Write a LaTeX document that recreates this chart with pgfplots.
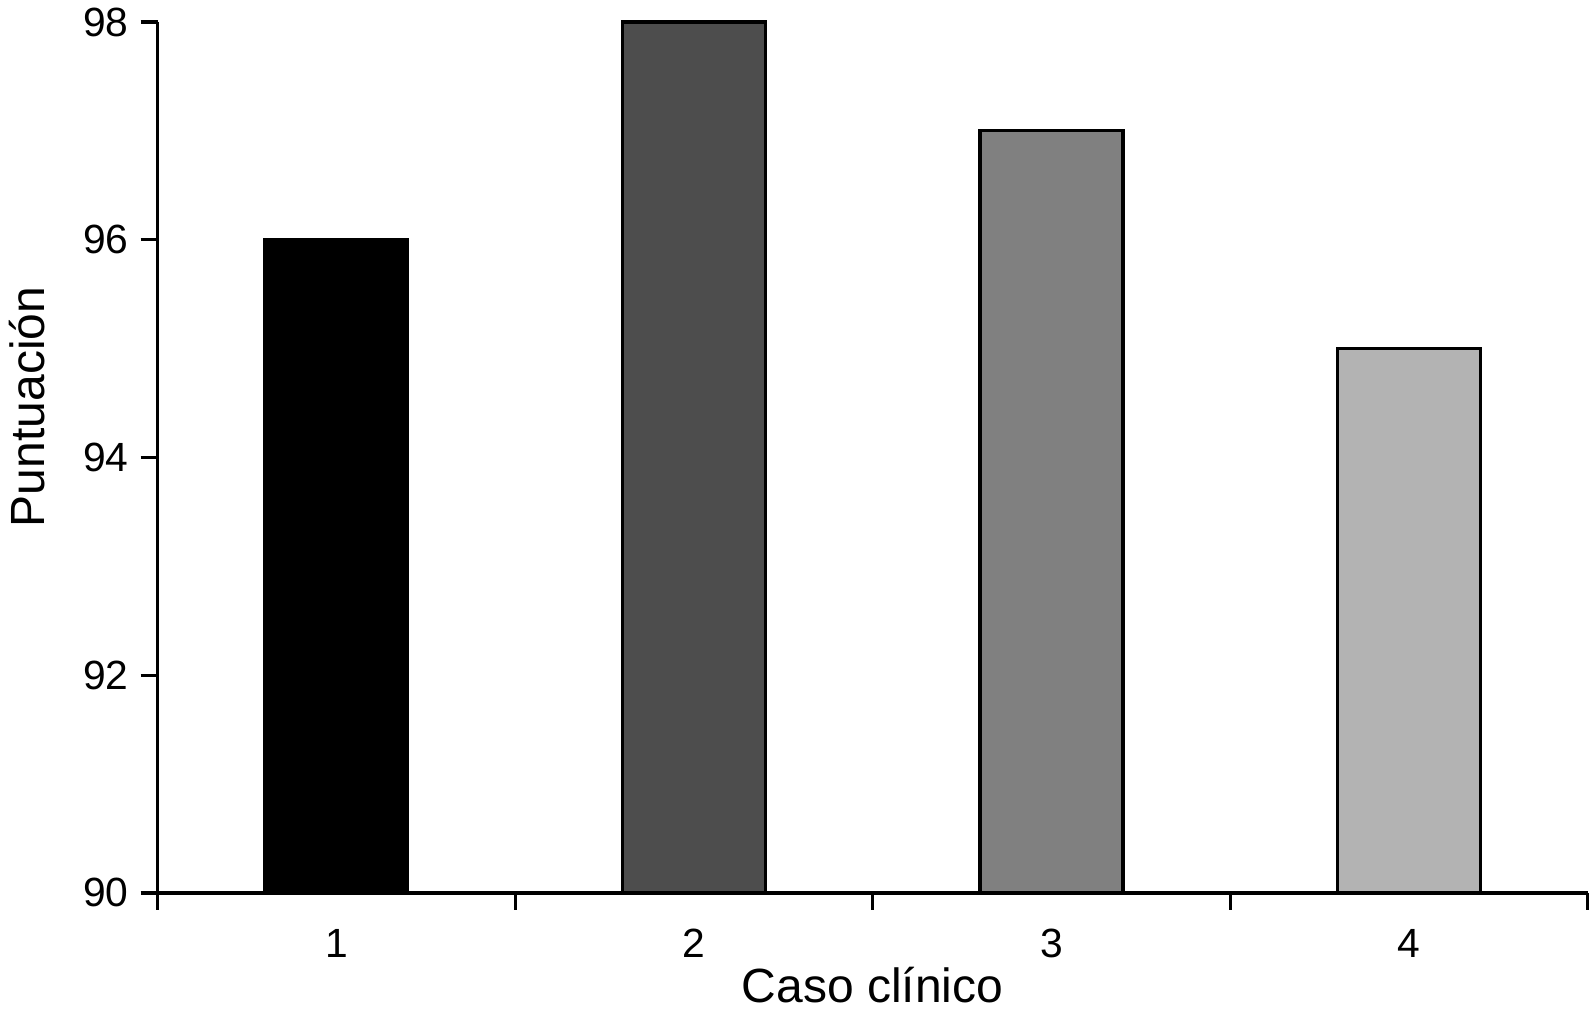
\documentclass[border=0pt]{standalone}
\usepackage{pgfplots}
\pgfplotsset{compat=1.18}
\usepackage{fontspec}
\setmainfont{Liberation Sans}
\definecolor{barA}{gray}{0.0}
\definecolor{barB}{HTML}{4D4D4D}
\definecolor{barC}{HTML}{808080}
\definecolor{barD}{HTML}{B3B3B3}
\begin{document}
\begin{tikzpicture}
\path[use as bounding box] (-39.4pt,-31.75pt) rectangle (358.9pt,223.25pt);
\begin{axis}[
  at={(0,0)}, anchor=south west,
  scale only axis,
  width=357.6pt, height=217.75pt,
  xmin=-0.5, xmax=3.5,
  ymin=90, ymax=98,
  ytick={90,92,94,96,98},
  xtick={-0.5,0.5,1.5,2.5,3.5},
  xticklabels={1,2,3,4},
  x tick label as interval,
  axis x line*=bottom,
  axis y line*=left,
  axis line style={line width=0.8pt},
  tick style={line width=0.8pt, black},
  tick align=outside,
  major tick length=4.25pt,
  /pgf/number format/assume math mode=true,
  tick label style={font=\fontsize{10.2}{12}\selectfont},
  xticklabel style={yshift=-1.3pt},
  yticklabel style={xshift=0.5pt},
  ylabel={Puntuación},
  xlabel={Caso clínico},
  label style={font=\fontsize{12}{14}\selectfont},
  ylabel style={at={(axis description cs:-0.0912,0.558)}, anchor=center, rotate=0},
  xlabel style={at={(axis description cs:0.5,0)}, anchor=base, yshift=-27.5pt},
  ybar, bar width=0.4, bar shift=0pt,
  clip=false,
]
\addplot[fill=barA, draw=black, line width=0.8pt] coordinates {(0,96)};
\addplot[fill=barB, draw=black, line width=0.8pt] coordinates {(1,98)};
\addplot[fill=barC, draw=black, line width=0.8pt] coordinates {(2,97)};
\addplot[fill=barD, draw=black, line width=0.8pt] coordinates {(3,95)};
\end{axis}
\end{tikzpicture}
\end{document}
